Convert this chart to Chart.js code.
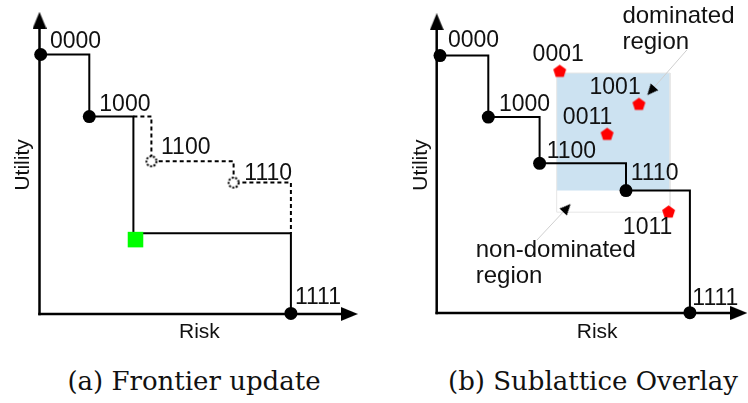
<!DOCTYPE html>
<html>
<head>
<meta charset="utf-8">
<script src="https://cdn.jsdelivr.net/npm/chart.js@4.4.0/dist/chart.umd.min.js"></script>
<style>
	body { margin: 0; background: #fff; }
	#lienzo { position: relative; width: 748px; height: 403px; overflow: hidden; }
	canvas { position: absolute; top: 0; }
	.leyenda { position: absolute; top: 368px; font: 26px "DejaVu Serif", serif; line-height: 26px; white-space: nowrap; transform: translateX(-50%); color: #111; }
</style>
</head>
<body>
<div id="lienzo">
	<canvas id="graficoA" width="374" height="345" style="left:0"></canvas>
	<canvas id="graficoB" width="374" height="345" style="left:374px"></canvas>
	<div class="leyenda" style="left:194px">(a) Frontier update</div>
	<div class="leyenda" style="left:593px">(b) Sublattice Overlay</div>
</div>
<script>
// Figura: (a) actualización de la frontera, (b) superposición del subretículo
// Unidades arbitrarias de riesgo (x) y utilidad (y)

// ---- Panel (a) ----
const nodosA = ['0000', '1000', '1100', '1110', '1111'];
const riesgoNodosA = [0.4, 16.6, 37.3, 64.7, 83.8];
const utilidadNodosA = [86.5, 65.8, 50.9, 43.8, 0.2];
const descartadosA = ['1100', '1110'];           // salen de la frontera
const riesgoFronteraA = [0.4, 16.6, 31.3, 83.8];  // frontera nueva
const utilidadFronteraA = [86.5, 65.8, 26.9, 0.2];
const riesgoAntiguaA = [31.3, 37.3, 64.7, 83.8];  // frontera anterior
const utilidadAntiguaA = [65.8, 50.9, 43.8, 26.9];
const nuevoRiesgoA = [32.0];
const nuevaUtilidadA = [24.8];
const finEjesA = [103.3, 97.9];                   // fin eje riesgo, fin eje utilidad

// ---- Panel (b) ----
const nodosB = ['0000', '1000', '1100', '1110', '1111'];
const riesgoNodosB = [1.1, 17.2, 34.3, 63.1, 84.4];
const utilidadNodosB = [85.8, 65.3, 49.9, 40.8, 0.1];
const subreticulo = ['0001', '1001', '0011', '1011'];
const riesgoSub = [41.0, 67.4, 56.8, 77.3];
const utilidadSub = [80.7, 69.7, 59.7, 33.8];
const regionRiesgo = [40, 77.8];
const regionUtilidad = [40.8, 80];                // zona dominada (sombreada)
const cajaUtilidad = [33.6, 80];                  // caja completa del subretículo
const flechaDominadaRiesgo = [83.4, 71.4];
const flechaDominadaUtilidad = [87.7, 74];
const flechaNoDominadaRiesgo = [33.4, 43.4];
const flechaNoDominadaUtilidad = [24.3, 35];
const finEjesB = [100.7, 97.1];

const PX = 3; // pixeles por unidad
const FUENTE_NODO = '23px "Liberation Sans", Arial, sans-serif';
const FUENTE_REGION = '24px "Liberation Sans", Arial, sans-serif';
const FUENTE_EJE = '21px "Liberation Sans", Arial, sans-serif';

function puntos(xs, ys) {
	return xs.map((x, i) => ({x: x, y: ys[i]}));
}

// marcadores dibujados a mano
function crearLienzo(w, h, dibujar) {
	const c = document.createElement('canvas');
	c.width = w; c.height = h;
	dibujar(c.getContext('2d'));
	return c;
}
function punta(ancho, largo) {
	return crearLienzo(ancho, largo, g => {
		g.fillStyle = '#000';
		g.beginPath();
		g.moveTo(ancho / 2, 0);
		g.lineTo(ancho, largo);
		g.lineTo(0, largo);
		g.closePath();
		g.fill();
	});
}
const puntaEje = punta(14, 17);
const puntaChica = punta(10, 11);
const circuloPunteado = crearLienzo(14, 14, g => {
	g.fillStyle = '#fff';
	g.strokeStyle = '#000';
	g.lineWidth = 2;
	g.setLineDash([2, 1.5]);
	g.beginPath();
	g.arc(7, 7, 5, 0, Math.PI * 2);
	g.fill();
	g.stroke();
});
const pentagono = crearLienzo(15, 15, g => {
	g.fillStyle = '#ff0000';
	g.beginPath();
	for (let k = 0; k < 5; k++) {
		const a = (-90 + 72 * k) * Math.PI / 180;
		g.lineTo(7.5 + 6.8 * Math.cos(a), 8 + 6.8 * Math.sin(a));
	}
	g.closePath();
	g.fill();
});

function linea(data, extra) {
	return Object.assign({
		data: data, showLine: true, borderColor: '#000', borderWidth: 2, pointRadius: 0
	}, extra || {});
}
function eje(xFin, yFin, rot) {
	return linea([{x: 0, y: 0}, {x: xFin, y: yFin}], {
		borderWidth: 2.5, borderCapStyle: 'square',
		pointRadius: [0, 8], pointStyle: puntaEje, pointRotation: rot
	});
}
function flecha(xs, ys) {
	const ang = Math.atan2(xs[1] - xs[0], ys[1] - ys[0]) * 180 / Math.PI;
	return linea(puntos(xs, ys), {
		borderColor: '#cfcfcf', borderWidth: 1,
		pointRadius: [0, 5], pointStyle: puntaChica, pointRotation: [0, ang]
	});
}
function nodos(xs, ys, estilos) {
	return {
		data: puntos(xs, ys), pointStyle: estilos, pointRadius: 6.5,
		pointBackgroundColor: '#000', pointBorderWidth: 0
	};
}

function pluginEtiquetas(items) {
	return {
		id: 'etiquetas',
		afterDatasetsDraw(chart) {
			const ctx = chart.ctx;
			const sx = chart.scales.x, sy = chart.scales.y;
			items.forEach(it => {
				ctx.save();
				ctx.font = it.fuente || FUENTE_NODO;
				ctx.fillStyle = '#111';
				ctx.textAlign = it.align || 'left';
				ctx.textBaseline = it.base || 'middle';
				ctx.translate(sx.getPixelForValue(it.x) + (it.dx || 0), sy.getPixelForValue(it.y) + (it.dy || 0));
				if (it.rot) ctx.rotate(it.rot * Math.PI / 180);
				[].concat(it.texto).forEach((t, k) => ctx.fillText(t, 0, k * (it.salto || 0)));
				ctx.restore();
			});
		}
	};
}

function opciones(origenX, origenY) {
	return {
		responsive: false,
		animation: false,
		events: [],
		layout: { padding: 0, autoPadding: false },
		scales: {
			x: { type: 'linear', display: false, min: -origenX / PX, max: (374 - origenX) / PX },
			y: { type: 'linear', display: false, min: -(345 - origenY) / PX, max: origenY / PX }
		},
		plugins: { legend: { display: false }, tooltip: { enabled: false } }
	};
}

// ---- Gráfico (a) ----
const desplazA = [[9.3, -12.7], [10, -11.6], [9.6, -13.8], [10.7, -8.6], [4, -15.9]];
const etiquetasA = nodosA.map((t, i) => ({
	texto: t, x: riesgoNodosA[i], y: utilidadNodosA[i], dx: desplazA[i][0], dy: desplazA[i][1]
})).concat([
	{ texto: 'Utility', x: -5.4, y: 49.7, rot: -90, align: 'center', fuente: FUENTE_EJE },
	{ texto: 'Risk', x: 53.3, y: -6, align: 'center', fuente: FUENTE_EJE }
]);

new Chart(document.getElementById('graficoA'), {
	type: 'scatter',
	data: {
		datasets: [
			nodos(riesgoNodosA, utilidadNodosA, nodosA.map(n => descartadosA.includes(n) ? circuloPunteado : 'circle')),
			{ data: puntos(nuevoRiesgoA, nuevaUtilidadA), pointStyle: 'rect', pointRadius: 11, pointBackgroundColor: '#00ff00', pointBorderWidth: 0 },
			linea(puntos(riesgoFronteraA, utilidadFronteraA), { stepped: 'before' }),
			linea(puntos(riesgoAntiguaA, utilidadAntiguaA), { stepped: 'before', borderDash: [4, 3] }),
			eje(finEjesA[0], 0, 90),
			eje(0, finEjesA[1], 0)
		]
	},
	options: opciones(39.5, 314),
	plugins: [pluginEtiquetas(etiquetasA)]
});

// ---- Gráfico (b) ----
const desplazB = [[8, -14.6], [10.7, -12.6], [7.1, -11.6], [4.7, -16.6], [2.4, -13.7]];
const desplazSub = [[-1.5, -15.9], [1.8, -16.4], [5.2, -16.4], [3.7, 16.4]];
const alineaSub = ['center', 'right', 'right', 'right'];
const etiquetasB = nodosB.map((t, i) => ({
	texto: t, x: riesgoNodosB[i], y: utilidadNodosB[i], dx: desplazB[i][0], dy: desplazB[i][1]
})).concat(subreticulo.map((t, i) => ({
	texto: t, x: riesgoSub[i], y: utilidadSub[i], dx: desplazSub[i][0], dy: desplazSub[i][1], align: alineaSub[i]
}))).concat([
	{ texto: ['dominated', 'region'], x: 61.9, y: 96.6, base: 'alphabetic', salto: 26, fuente: FUENTE_REGION },
	{ texto: ['non-dominated', 'region'], x: 13.0, y: 18.8, base: 'alphabetic', salto: 26.6, fuente: FUENTE_REGION },
	{ texto: 'Utility', x: -5.3, y: 49.3, rot: -90, align: 'center', fuente: FUENTE_EJE },
	{ texto: 'Risk', x: 53.5, y: -6.3, align: 'center', fuente: FUENTE_EJE }
]);

new Chart(document.getElementById('graficoB'), {
	type: 'scatter',
	data: {
		datasets: [
			{ data: puntos(riesgoSub, utilidadSub), pointStyle: pentagono, pointRadius: 7 },
			nodos(riesgoNodosB, utilidadNodosB, 'circle'),
			linea(puntos(riesgoNodosB, utilidadNodosB), { stepped: 'before' }),
			flecha(flechaDominadaRiesgo, flechaDominadaUtilidad),
			flecha(flechaNoDominadaRiesgo, flechaNoDominadaUtilidad),
			eje(finEjesB[0], 0, 90),
			eje(0, finEjesB[1], 0),
			linea(puntos([regionRiesgo[0], regionRiesgo[1], regionRiesgo[1], regionRiesgo[0], regionRiesgo[0]],
				[cajaUtilidad[1], cajaUtilidad[1], cajaUtilidad[0], cajaUtilidad[0], cajaUtilidad[1]]),
				{ borderColor: '#e6e6e6', borderWidth: 1 }),
			linea(puntos(regionRiesgo, [regionUtilidad[1], regionUtilidad[1]]), {
				borderColor: 'rgba(0,0,0,0)', fill: { value: regionUtilidad[0] }, backgroundColor: '#cce2f1'
			})
		]
	},
	options: opciones(62.7, 313),
	plugins: [pluginEtiquetas(etiquetasB)]
});
</script>
</body>
</html>
